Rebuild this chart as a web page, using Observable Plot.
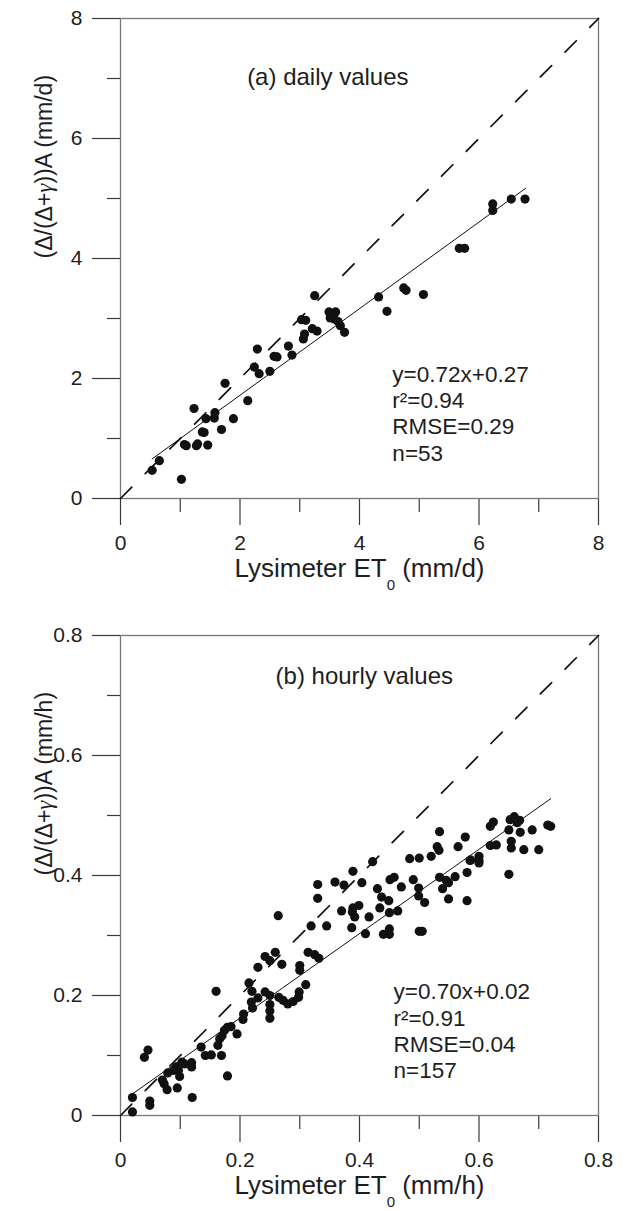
<!DOCTYPE html>
<html><head><meta charset="utf-8">
<script src="https://cdn.jsdelivr.net/npm/d3@7"></script>
<script src="https://cdn.jsdelivr.net/npm/@observablehq/plot@0.6"></script>
<style>
body{margin:0;background:#fff;}
#chart svg{display:block;}
</style>
</head><body><div id="chart"></div>
<script>
// ---------- (a) daily values ----------
const dailyX = [0.53,0.65,1.02,1.07,1.10,1.23,1.27,1.29,1.37,1.40,1.43,1.46,1.57,1.58,1.69,1.75,1.89,2.13,2.24,2.29,2.32,2.50,2.57,2.62,2.81,2.87,3.06,3.08,3.03,3.10,3.21,3.29,3.25,3.49,3.60,3.51,3.58,3.64,3.68,3.75,4.32,4.46,4.74,4.78,5.07,5.67,5.76,6.23,6.23,6.54,6.77,3.55];
const dailyY = [0.47,0.63,0.32,0.90,0.88,1.50,0.88,0.91,1.11,1.10,1.33,0.89,1.34,1.43,1.15,1.92,1.33,1.63,2.19,2.49,2.08,2.12,2.37,2.36,2.54,2.39,2.66,2.74,2.98,2.97,2.83,2.79,3.38,3.11,3.11,3.01,2.99,2.95,2.88,2.77,3.36,3.12,3.51,3.47,3.40,4.17,4.17,4.91,4.80,4.99,4.99,3.05];
const dailyFitX = [0.53, 6.78];
const dailyFitY = [0.66, 5.17];
const dailyTicks = [0,2,4,6,8];
const dailyMinor = [1,3,5,7];
const dailyStats = ["y=0.72x+0.27","r²=0.94","RMSE=0.29","n=53"];

// ---------- (b) hourly values ----------
const hourlyX = [0.020,0.020,0.040,0.046,0.049,0.049,0.070,0.073,0.078,0.079,0.089,0.093,0.095,0.097,0.099,0.103,0.107,0.119,0.119,0.120,0.135,0.142,0.152,0.160,0.163,0.169,0.166,0.170,0.174,0.179,0.179,0.185,0.195,0.205,0.206,0.215,0.220,0.219,0.221,0.230,0.230,0.242,0.250,0.259,0.264,0.270,0.242,0.250,0.250,0.250,0.250,0.265,0.272,0.280,0.289,0.298,0.299,0.300,0.300,0.310,0.314,0.325,0.332,
0.534,0.577,0.530,0.533,0.565,0.520,0.500,0.484,0.422,0.585,0.600,0.389,0.404,0.330,0.359,0.374,0.430,0.451,0.458,0.470,0.490,0.499,0.499,0.509,0.534,0.545,0.549,0.560,0.539,0.549,0.580,0.580,0.330,0.437,0.449,0.389,0.399,0.388,0.392,0.370,0.416,0.434,0.450,0.464,0.319,0.345,0.387,0.410,0.440,0.450,0.450,0.500,0.505,
0.624,0.619,0.652,0.659,0.668,0.664,0.715,0.720,0.650,0.669,0.689,0.619,0.629,0.654,0.654,0.675,0.700,0.600,0.600,0.586,0.650];
const hourlyY = [0.030,0.006,0.097,0.109,0.024,0.017,0.059,0.053,0.043,0.071,0.075,0.081,0.046,0.075,0.065,0.089,0.086,0.088,0.081,0.030,0.114,0.100,0.101,0.207,0.117,0.100,0.128,0.133,0.142,0.066,0.147,0.148,0.136,0.160,0.169,0.221,0.207,0.189,0.179,0.247,0.196,0.265,0.258,0.272,0.333,0.252,0.206,0.200,0.185,0.174,0.162,0.197,0.192,0.186,0.190,0.197,0.206,0.250,0.242,0.218,0.272,0.268,0.262,
0.473,0.464,0.448,0.442,0.448,0.432,0.429,0.428,0.423,0.425,0.425,0.407,0.388,0.385,0.389,0.384,0.378,0.393,0.397,0.381,0.393,0.379,0.366,0.355,0.397,0.392,0.388,0.398,0.378,0.361,0.405,0.358,0.362,0.364,0.358,0.346,0.350,0.339,0.331,0.341,0.331,0.346,0.338,0.341,0.316,0.316,0.313,0.303,0.302,0.311,0.302,0.307,0.307,
0.489,0.482,0.493,0.498,0.492,0.488,0.484,0.482,0.476,0.472,0.476,0.450,0.451,0.457,0.446,0.443,0.443,0.432,0.421,0.426,0.402];
const hourlyFitX = [0.02, 0.72];
const hourlyFitY = [0.036, 0.528];
const hourlyTicks = [0,0.2,0.4,0.6,0.8];
const hourlyMinor = [0.1,0.3,0.5,0.7];
const hourlyStats = ["y=0.70x+0.02","r²=0.91","RMSE=0.04","n=157"];

const FONT = "Arial, 'Liberation Sans', Helvetica, sans-serif";
const INK = "#1e1e1e";
const NS = "http://www.w3.org/2000/svg";

function tspan(text, attrs = {}) {
  const t = document.createElementNS(NS, "tspan");
  t.textContent = text;
  for (const [k, v] of Object.entries(attrs)) t.setAttribute(k, v);
  return t;
}

function panel(o) {
  const pts = o.xs.map((x, i) => ({x, y: o.ys[i]}));
  const fit = o.fitX.map((x, i) => ({x, y: o.fitY[i]}));
  const diag = [0, o.max].map(v => ({x: v, y: v}));
  const fmt = d => `${d}`;
  const H = o.height - o.marginTop - o.marginBottom; // plot area height
  const W = 624 - 120 - 26;                           // plot area width
  const svg = Plot.plot({
    width: 624, height: o.height,
    marginLeft: 120, marginRight: 26, marginTop: o.marginTop, marginBottom: o.marginBottom,
    x: {domain: [0, o.max], axis: null},
    y: {domain: [0, o.max], axis: null},
    style: {fontFamily: FONT, fontSize: "21px", color: INK, background: "#fff", overflow: "visible"},
    marks: [
      // ticks (outside the frame)
      Plot.ruleX(o.ticks, {x: d => d, insetTop: H, insetBottom: -27, stroke: "#3a3a3a", strokeWidth: 1.2}),
      Plot.ruleX(o.minor, {x: d => d, insetTop: H, insetBottom: -14, stroke: "#3a3a3a", strokeWidth: 1.2}),
      Plot.ruleY(o.ticks, {y: d => d, insetRight: W, insetLeft: -28, stroke: "#3a3a3a", strokeWidth: 1.2}),
      Plot.ruleY(o.minor, {y: d => d, insetRight: W, insetLeft: -13, stroke: "#3a3a3a", strokeWidth: 1.2}),
      Plot.frame({stroke: "#777", strokeWidth: 1.3}),
      // tick labels
      Plot.text(o.ticks, {x: d => d, text: fmt, frameAnchor: "bottom", dy: 51, fontSize: 21, fill: INK}),
      Plot.text(o.ticks, {y: d => d, text: fmt, frameAnchor: "left", dx: -38, textAnchor: "end", fontSize: 21, fill: INK}),
      // reference (1:1) and fitted lines
      Plot.line(diag, {x: "x", y: "y", stroke: "#111", strokeWidth: 1.7, strokeDasharray: "16,19"}),
      Plot.line(fit, {x: "x", y: "y", stroke: "#111", strokeWidth: 1}),
      Plot.dot(pts, {x: "x", y: "y", r: 4.6, fill: "#111", stroke: null}),
      Plot.text([{x: o.titleX, y: o.titleY, t: o.title}], {x: "x", y: "y", text: "t", fontSize: 24, fill: INK}),
      Plot.text([{x: o.statsX, y: o.statsY, t: o.stats.join("\n")}], {x: "x", y: "y", text: "t", textAnchor: "start", lineAnchor: "top", lineHeight: 1.17, fontSize: 22.5, fill: INK}),
      Plot.text([o.xLabel], {frameAnchor: "bottom", dy: 78, fontSize: 26, fill: INK}),
      Plot.text([o.yLabel], {frameAnchor: "left", dx: -76, rotate: -90, fontSize: 23, fill: INK})
    ]
  });
  // subscript for ET0 and a true gamma glyph in the y label
  svg.querySelectorAll("text").forEach(t => {
    const s = t.textContent;
    if (s.startsWith("Lysimeter ET")) {
      const rest = s.replace("Lysimeter ET", "");
      t.textContent = "";
      t.append(tspan("Lysimeter ET"), tspan("0", {dy: "13", "font-size": "15"}), tspan(rest, {dy: "-13"}));
    } else if (s.includes("γ")) {
      const [before, after] = s.split("γ");
      t.textContent = "";
      t.append(tspan(before), tspan("γ", {"font-style": "italic", "font-family": "'Liberation Serif', 'DejaVu Serif', serif"}), tspan(after));
    }
  });
  return svg;
}

const chart = document.getElementById("chart");
chart.append(panel({
  xs: dailyX, ys: dailyY, fitX: dailyFitX, fitY: dailyFitY, max: 8,
  ticks: dailyTicks, minor: dailyMinor,
  height: 600, marginTop: 18, marginBottom: 102,
  title: "(a) daily values", titleX: 3.47, titleY: 7.02,
  stats: dailyStats, statsX: 4.55, statsY: 2.26,
  xLabel: "Lysimeter ET (mm/d)",
  yLabel: "(Δ/(Δ+γ))A (mm/d)"
}));
chart.append(panel({
  xs: hourlyX, ys: hourlyY, fitX: hourlyFitX, fitY: hourlyFitY, max: 0.8,
  ticks: hourlyTicks, minor: hourlyMinor,
  height: 611, marginTop: 35, marginBottom: 96,
  title: "(b) hourly values", titleX: 0.408, titleY: 0.732,
  stats: hourlyStats, statsX: 0.457, statsY: 0.225,
  xLabel: "Lysimeter ET (mm/h)",
  yLabel: "(Δ/(Δ+γ))A (mm/h)"
}));
</script>
</body></html>
